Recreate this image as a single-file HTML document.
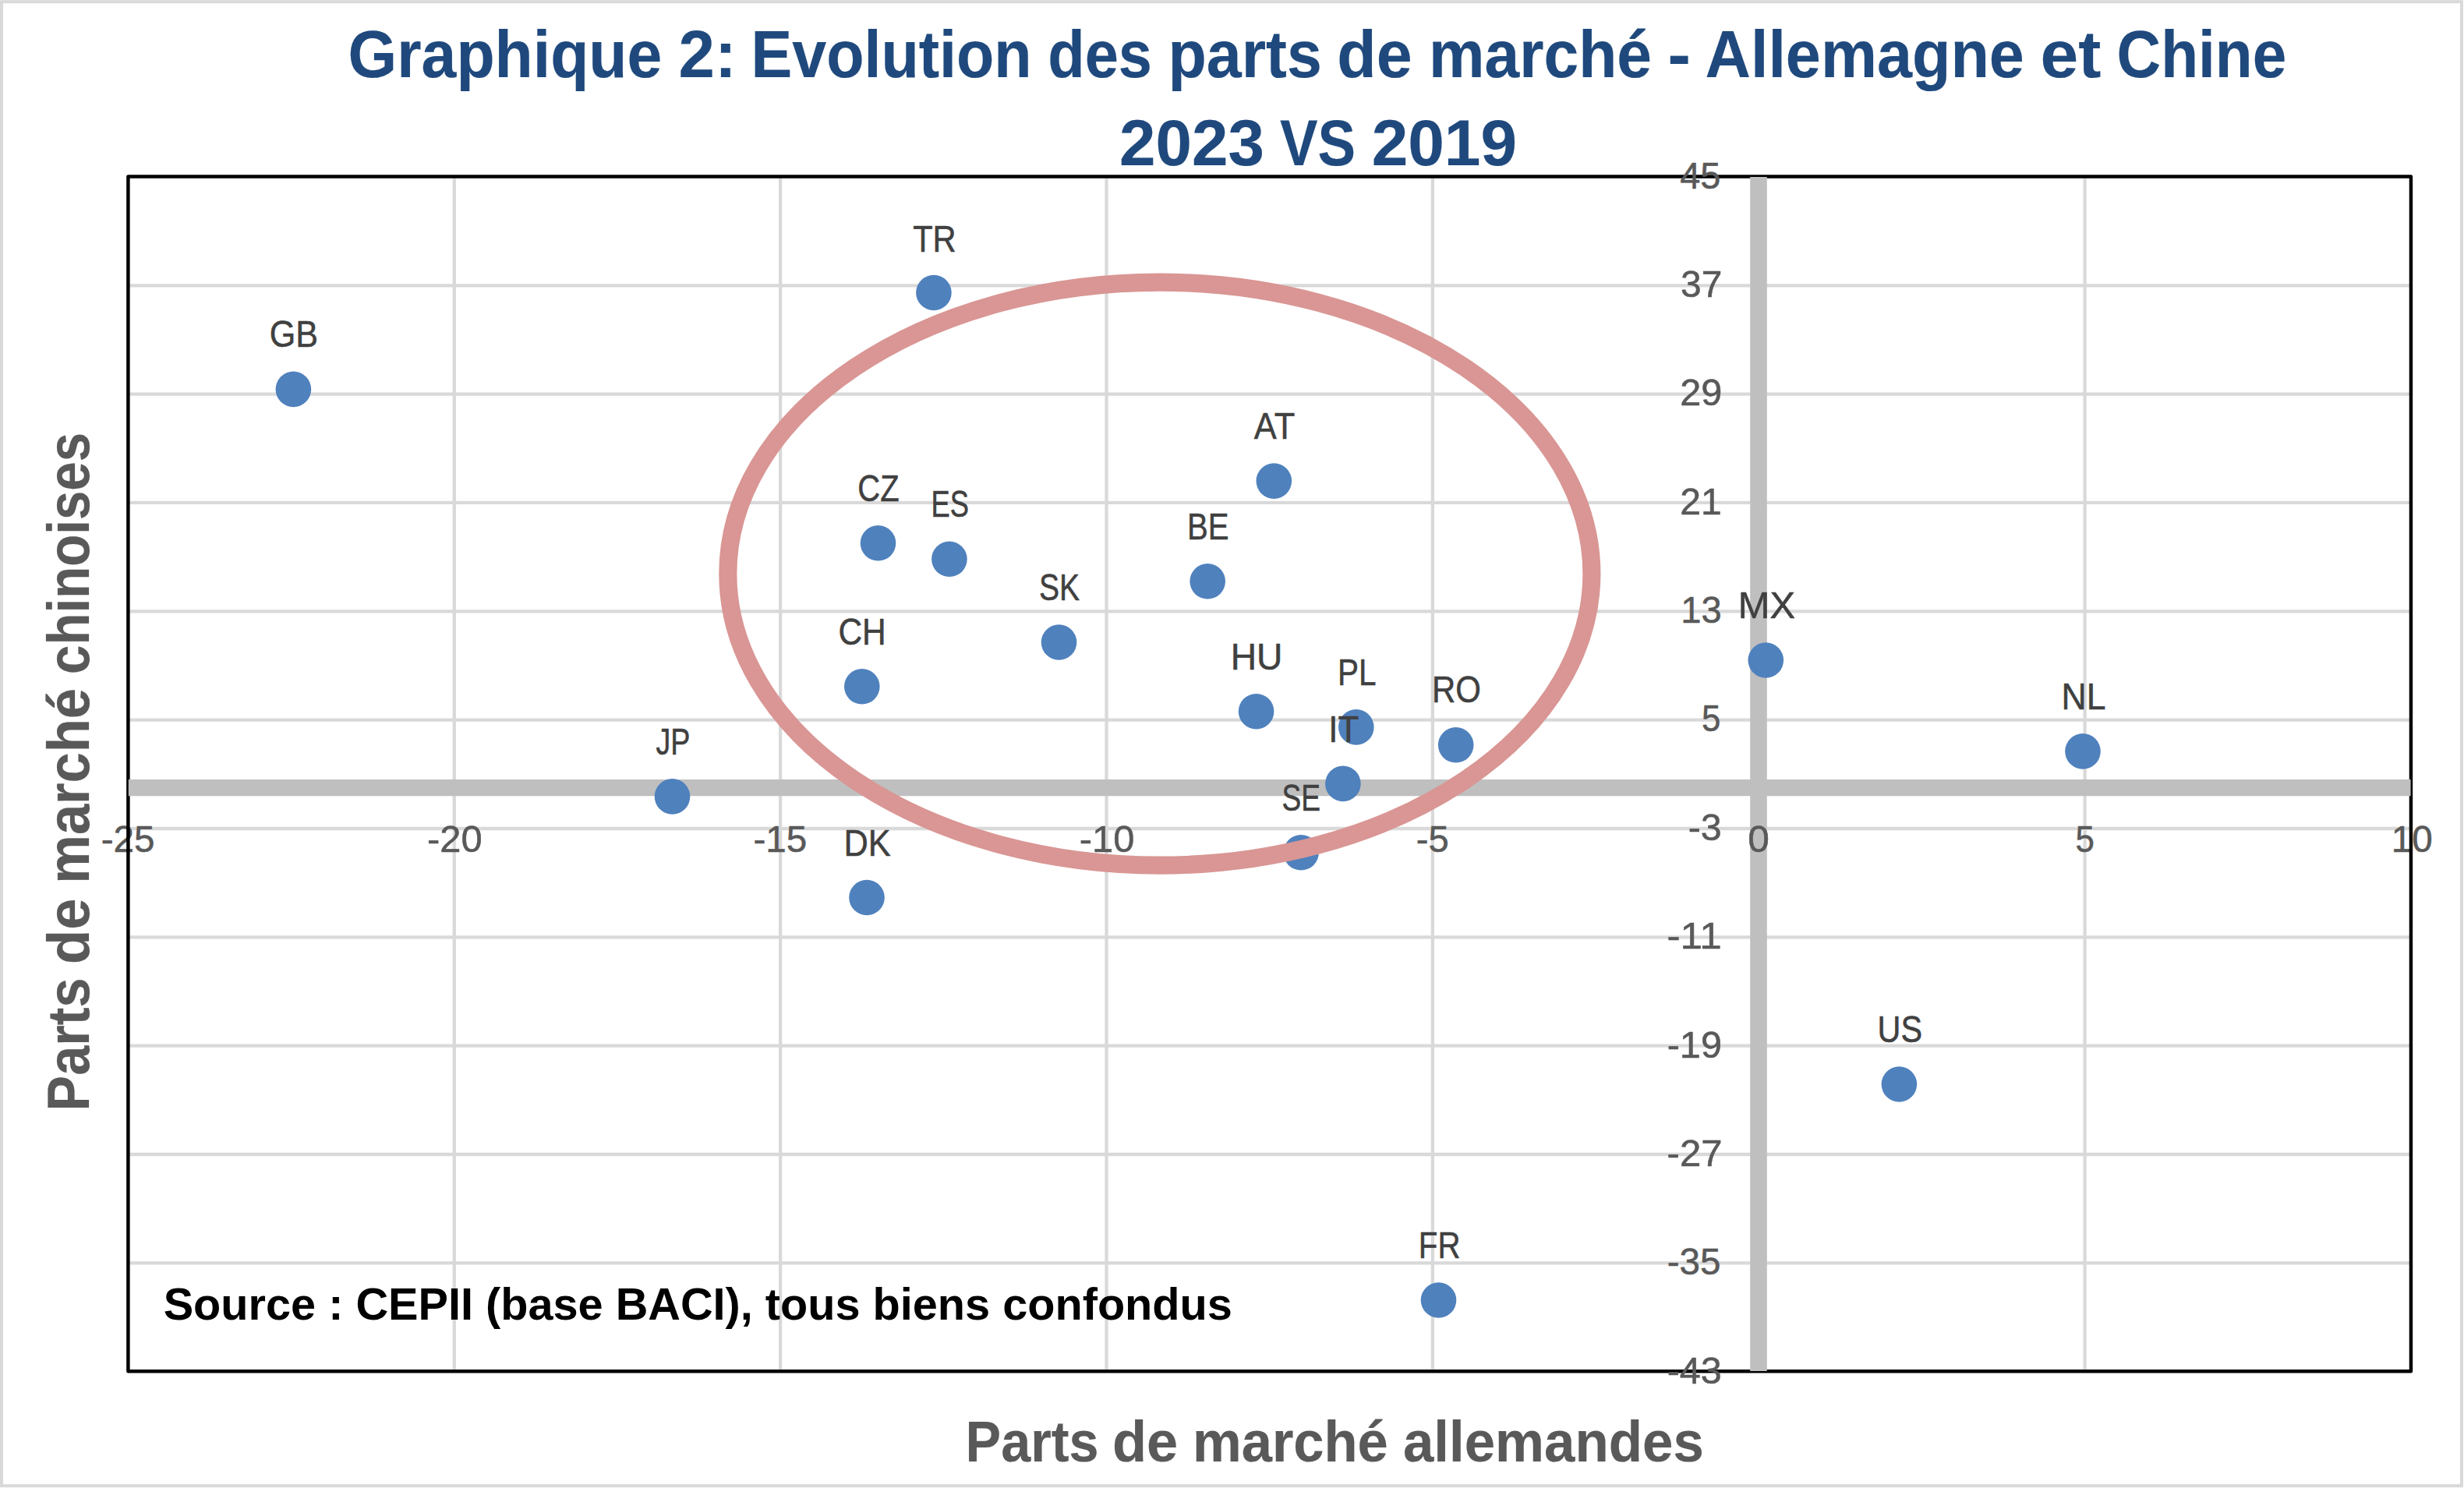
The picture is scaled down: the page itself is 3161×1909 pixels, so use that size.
<!DOCTYPE html>
<html lang="fr">
<head>
<meta charset="utf-8">
<title>Graphique 2: Evolution des parts de marché - Allemagne et Chine 2023 VS 2019</title>
<style>
html,body{margin:0;padding:0;background:#ffffff;}
body{width:3161px;height:1909px;overflow:hidden;}
svg{display:block;}
svg text{font-family:"Liberation Sans", sans-serif;}
</style>
</head>
<body>
<svg width="3161" height="1909" viewBox="0 0 3161 1909">
<rect x="0" y="0" width="3161" height="1909" fill="#ffffff"/>
<line x1="164.4" y1="366.29" x2="3092.96" y2="366.29" stroke="#d9d9d9" stroke-width="4.3"/>
<line x1="164.4" y1="505.63" x2="3092.96" y2="505.63" stroke="#d9d9d9" stroke-width="4.3"/>
<line x1="164.4" y1="644.97" x2="3092.96" y2="644.97" stroke="#d9d9d9" stroke-width="4.3"/>
<line x1="164.4" y1="784.31" x2="3092.96" y2="784.31" stroke="#d9d9d9" stroke-width="4.3"/>
<line x1="164.4" y1="923.65" x2="3092.96" y2="923.65" stroke="#d9d9d9" stroke-width="4.3"/>
<line x1="164.4" y1="1063.00" x2="3092.96" y2="1063.00" stroke="#d9d9d9" stroke-width="4.3"/>
<line x1="164.4" y1="1202.34" x2="3092.96" y2="1202.34" stroke="#d9d9d9" stroke-width="4.3"/>
<line x1="164.4" y1="1341.68" x2="3092.96" y2="1341.68" stroke="#d9d9d9" stroke-width="4.3"/>
<line x1="164.4" y1="1481.02" x2="3092.96" y2="1481.02" stroke="#d9d9d9" stroke-width="4.3"/>
<line x1="164.4" y1="1620.36" x2="3092.96" y2="1620.36" stroke="#d9d9d9" stroke-width="4.3"/>
<line x1="582.77" y1="226.55" x2="582.77" y2="1759.3" stroke="#d9d9d9" stroke-width="4.3"/>
<line x1="1001.13" y1="226.55" x2="1001.13" y2="1759.3" stroke="#d9d9d9" stroke-width="4.3"/>
<line x1="1419.50" y1="226.55" x2="1419.50" y2="1759.3" stroke="#d9d9d9" stroke-width="4.3"/>
<line x1="1837.86" y1="226.55" x2="1837.86" y2="1759.3" stroke="#d9d9d9" stroke-width="4.3"/>
<line x1="2256.23" y1="226.55" x2="2256.23" y2="1759.3" stroke="#d9d9d9" stroke-width="4.3"/>
<line x1="2674.59" y1="226.55" x2="2674.59" y2="1759.3" stroke="#d9d9d9" stroke-width="4.3"/>
<text transform="translate(131.88,1093.42) scale(0.9878,1)" x="-2.25" y="0" font-size="48.2" font-weight="400" fill="#595959" stroke="#595959" stroke-width="0.55" stroke-linejoin="round">-25</text>
<text transform="translate(550.25,1093.42) scale(1.0145,1)" x="-2.25" y="0" font-size="48.2" font-weight="400" fill="#595959" stroke="#595959" stroke-width="0.55" stroke-linejoin="round">-20</text>
<text transform="translate(968.61,1093.42) scale(0.9878,1)" x="-2.25" y="0" font-size="48.2" font-weight="400" fill="#595959" stroke="#595959" stroke-width="0.55" stroke-linejoin="round">-15</text>
<text transform="translate(1386.98,1093.42) scale(1.0145,1)" x="-2.25" y="0" font-size="48.2" font-weight="400" fill="#595959" stroke="#595959" stroke-width="0.55" stroke-linejoin="round">-10</text>
<text transform="translate(1818.86,1093.42) scale(0.9792,1)" x="-2.25" y="0" font-size="48.2" font-weight="400" fill="#595959" stroke="#595959" stroke-width="0.55" stroke-linejoin="round">-5</text>
<text transform="translate(2664.25,1093.42) scale(0.9099,1)" x="-2.00" y="0" font-size="48.2" font-weight="400" fill="#595959" stroke="#595959" stroke-width="0.55" stroke-linejoin="round">5</text>
<text transform="translate(3071.35,1093.42) scale(0.9885,1)" x="-3.75" y="0" font-size="48.2" font-weight="400" fill="#595959" stroke="#595959" stroke-width="0.55" stroke-linejoin="round">10</text>
<rect x="164.4" y="226.55" width="2928.56" height="1532.75" fill="none" stroke="#000" stroke-width="4.45" stroke-linejoin="round"/>
<line x1="164.80" y1="1010.7" x2="3092.56" y2="1010.7" stroke="#bfbfbf" stroke-width="21.3"/>
<line x1="2256.0" y1="226.95" x2="2256.0" y2="1759.10" stroke="#bfbfbf" stroke-width="21.6"/>
<circle cx="376.4" cy="499.4" r="22.8" fill="#4f81bd"/>
<circle cx="1197.9" cy="375.5" r="22.8" fill="#4f81bd"/>
<circle cx="1126.5" cy="696.8" r="22.8" fill="#4f81bd"/>
<circle cx="1217.9" cy="717.3" r="22.8" fill="#4f81bd"/>
<circle cx="1634.3" cy="617.1" r="22.8" fill="#4f81bd"/>
<circle cx="1549.2" cy="745.8" r="22.8" fill="#4f81bd"/>
<circle cx="1358.5" cy="824.0" r="22.8" fill="#4f81bd"/>
<circle cx="1105.8" cy="880.8" r="22.8" fill="#4f81bd"/>
<circle cx="1611.6" cy="912.7" r="22.8" fill="#4f81bd"/>
<circle cx="1739.8" cy="932.9" r="22.8" fill="#4f81bd"/>
<circle cx="1722.9" cy="1005.4" r="22.8" fill="#4f81bd"/>
<circle cx="1867.7" cy="955.8" r="22.8" fill="#4f81bd"/>
<circle cx="1669.1" cy="1093.8" r="22.8" fill="#4f81bd"/>
<circle cx="862.5" cy="1021.9" r="22.8" fill="#4f81bd"/>
<circle cx="1112.0" cy="1151.5" r="22.8" fill="#4f81bd"/>
<circle cx="2265.3" cy="847.0" r="22.8" fill="#4f81bd"/>
<circle cx="2672.0" cy="963.9" r="22.8" fill="#4f81bd"/>
<circle cx="2436.4" cy="1391.0" r="22.8" fill="#4f81bd"/>
<circle cx="1845.5" cy="1668.0" r="22.8" fill="#4f81bd"/>
<text transform="translate(449.90,99.40) scale(0.9366,1)" x="-3.50" y="0" font-size="86" font-weight="700" fill="#1f497d" stroke="#1f497d" stroke-width="0.2" stroke-linejoin="round">Graphique</text>
<text transform="translate(873.50,99.40) scale(0.9690,1)" x="-3.00" y="0" font-size="86" font-weight="700" fill="#1f497d" stroke="#1f497d" stroke-width="0.2" stroke-linejoin="round">2:</text>
<text transform="translate(968.83,99.40) scale(0.9193,1)" x="-5.75" y="0" font-size="86" font-weight="700" fill="#1f497d" stroke="#1f497d" stroke-width="0.2" stroke-linejoin="round">Evolution</text>
<text transform="translate(1347.50,99.40) scale(0.9020,1)" x="-3.50" y="0" font-size="86" font-weight="700" fill="#1f497d" stroke="#1f497d" stroke-width="0.2" stroke-linejoin="round">des</text>
<text transform="translate(1503.86,99.40) scale(0.9382,1)" x="-5.75" y="0" font-size="86" font-weight="700" fill="#1f497d" stroke="#1f497d" stroke-width="0.2" stroke-linejoin="round">parts</text>
<text transform="translate(1718.60,99.40) scale(0.9607,1)" x="-3.50" y="0" font-size="86" font-weight="700" fill="#1f497d" stroke="#1f497d" stroke-width="0.2" stroke-linejoin="round">de</text>
<text transform="translate(1838.43,99.40) scale(0.9347,1)" x="-5.75" y="0" font-size="86" font-weight="700" fill="#1f497d" stroke="#1f497d" stroke-width="0.2" stroke-linejoin="round">marché</text>
<text transform="translate(2142.91,99.40) scale(1.0279,1)" x="-3.25" y="0" font-size="86" font-weight="700" fill="#1f497d" stroke="#1f497d" stroke-width="0.2" stroke-linejoin="round">-</text>
<text transform="translate(2189.51,99.40) scale(0.9417,1)" x="-2.25" y="0" font-size="86" font-weight="700" fill="#1f497d" stroke="#1f497d" stroke-width="0.2" stroke-linejoin="round">Allemagne</text>
<text transform="translate(2620.84,99.40) scale(1.0174,1)" x="-3.25" y="0" font-size="86" font-weight="700" fill="#1f497d" stroke="#1f497d" stroke-width="0.2" stroke-linejoin="round">et</text>
<text transform="translate(2718.75,99.40) scale(0.9114,1)" x="-3.50" y="0" font-size="86" font-weight="700" fill="#1f497d" stroke="#1f497d" stroke-width="0.2" stroke-linejoin="round">Chine</text>
<text transform="translate(1439.10,211.60) scale(0.9948,1)" x="-3.00" y="0" font-size="84" font-weight="700" fill="#1f497d" stroke="#1f497d" stroke-width="0.2" stroke-linejoin="round">2023</text>
<text transform="translate(1642.57,211.60) scale(0.8661,1)" x="-0.75" y="0" font-size="84" font-weight="700" fill="#1f497d" stroke="#1f497d" stroke-width="0.2" stroke-linejoin="round">VS</text>
<text transform="translate(1762.62,211.60) scale(0.9976,1)" x="-3.00" y="0" font-size="84" font-weight="700" fill="#1f497d" stroke="#1f497d" stroke-width="0.2" stroke-linejoin="round">2019</text>
<text transform="translate(1243.10,1875.10) scale(0.9113,1)" x="-5.00" y="0" font-size="75" font-weight="700" fill="#595959" stroke="#595959" stroke-width="0.2" stroke-linejoin="round">Parts</text>
<text transform="translate(1429.82,1875.10) scale(0.9623,1)" x="-3.00" y="0" font-size="75" font-weight="700" fill="#595959" stroke="#595959" stroke-width="0.2" stroke-linejoin="round">de</text>
<text transform="translate(1534.75,1875.10) scale(0.9401,1)" x="-5.00" y="0" font-size="75" font-weight="700" fill="#595959" stroke="#595959" stroke-width="0.2" stroke-linejoin="round">marché</text>
<text transform="translate(1802.05,1875.10) scale(0.9447,1)" x="-2.25" y="0" font-size="75" font-weight="700" fill="#595959" stroke="#595959" stroke-width="0.2" stroke-linejoin="round">allemandes</text>
<text transform="translate(113.80,1420.90) rotate(-90) scale(0.8991,1)" x="-5.00" y="0" font-size="76" font-weight="700" fill="#595959" stroke="#595959" stroke-width="0.2" stroke-linejoin="round">Parts</text>
<text transform="translate(113.80,1234.12) rotate(-90) scale(0.9510,1)" x="-3.00" y="0" font-size="76" font-weight="700" fill="#595959" stroke="#595959" stroke-width="0.2" stroke-linejoin="round">de</text>
<text transform="translate(113.80,1129.17) rotate(-90) scale(0.9278,1)" x="-5.00" y="0" font-size="76" font-weight="700" fill="#595959" stroke="#595959" stroke-width="0.2" stroke-linejoin="round">marché</text>
<text transform="translate(113.80,862.30) rotate(-90) scale(0.8845,1)" x="-3.00" y="0" font-size="76" font-weight="700" fill="#595959" stroke="#595959" stroke-width="0.2" stroke-linejoin="round">chinoises</text>
<text transform="translate(211.40,1693.10) scale(0.9996,1)" x="-1.75" y="0" font-size="57.7" font-weight="700" fill="#000000">Source : CEPII (base BACI), tous biens confondus</text>
<text transform="translate(2156.22,241.78) scale(0.9743,1)" x="-1.00" y="0" font-size="48.2" font-weight="400" fill="#595959" stroke="#595959" stroke-width="0.55" stroke-linejoin="round">45</text>
<text transform="translate(2157.72,381.12) scale(0.9939,1)" x="-1.75" y="0" font-size="48.2" font-weight="400" fill="#595959" stroke="#595959" stroke-width="0.55" stroke-linejoin="round">37</text>
<text transform="translate(2157.72,520.46) scale(1.0092,1)" x="-2.50" y="0" font-size="48.2" font-weight="400" fill="#595959" stroke="#595959" stroke-width="0.55" stroke-linejoin="round">29</text>
<text transform="translate(2157.72,659.80) scale(0.9990,1)" x="-2.50" y="0" font-size="48.2" font-weight="400" fill="#595959" stroke="#595959" stroke-width="0.55" stroke-linejoin="round">21</text>
<text transform="translate(2159.97,799.14) scale(0.9780,1)" x="-3.75" y="0" font-size="48.2" font-weight="400" fill="#595959" stroke="#595959" stroke-width="0.55" stroke-linejoin="round">13</text>
<text transform="translate(2184.76,938.48) scale(0.9099,1)" x="-2.00" y="0" font-size="48.2" font-weight="400" fill="#595959" stroke="#595959" stroke-width="0.55" stroke-linejoin="round">5</text>
<text transform="translate(2167.93,1077.82) scale(1.0052,1)" x="-2.25" y="0" font-size="48.2" font-weight="400" fill="#595959" stroke="#595959" stroke-width="0.55" stroke-linejoin="round">-3</text>
<text transform="translate(2140.90,1217.16) scale(1.0642,1)" x="-2.25" y="0" font-size="48.2" font-weight="400" fill="#595959" stroke="#595959" stroke-width="0.55" stroke-linejoin="round">-11</text>
<text transform="translate(2140.90,1356.50) scale(1.0107,1)" x="-2.25" y="0" font-size="48.2" font-weight="400" fill="#595959" stroke="#595959" stroke-width="0.55" stroke-linejoin="round">-19</text>
<text transform="translate(2140.90,1495.84) scale(1.0185,1)" x="-2.25" y="0" font-size="48.2" font-weight="400" fill="#595959" stroke="#595959" stroke-width="0.55" stroke-linejoin="round">-27</text>
<text transform="translate(2140.90,1635.18) scale(0.9878,1)" x="-2.25" y="0" font-size="48.2" font-weight="400" fill="#595959" stroke="#595959" stroke-width="0.55" stroke-linejoin="round">-35</text>
<text transform="translate(2140.90,1774.52) scale(1.0069,1)" x="-2.25" y="0" font-size="48.2" font-weight="400" fill="#595959" stroke="#595959" stroke-width="0.55" stroke-linejoin="round">-43</text>
<text transform="translate(2244.29,1093.42) scale(1.0304,1)" x="-2.00" y="0" font-size="48.2" font-weight="400" fill="#595959" stroke="#595959" stroke-width="0.55" stroke-linejoin="round">0</text>
<text transform="translate(347.95,444.93) scale(0.8946,1)" x="-2.50" y="0" font-size="48.2" font-weight="400" fill="#404040" stroke="#404040" stroke-width="0.55" stroke-linejoin="round">GB</text>
<text transform="translate(1172.05,322.62) scale(0.8639,1)" x="-1.00" y="0" font-size="48.2" font-weight="400" fill="#404040" stroke="#404040" stroke-width="0.55" stroke-linejoin="round">TR</text>
<text transform="translate(1102.42,642.83) scale(0.8290,1)" x="-2.50" y="0" font-size="48.2" font-weight="400" fill="#404040" stroke="#404040" stroke-width="0.55" stroke-linejoin="round">CZ</text>
<text transform="translate(1197.51,662.73) scale(0.7534,1)" x="-4.00" y="0" font-size="48.2" font-weight="400" fill="#404040" stroke="#404040" stroke-width="0.55" stroke-linejoin="round">ES</text>
<text transform="translate(1609.08,563.33) scale(0.9022,1)" x="-0.25" y="0" font-size="48.2" font-weight="400" fill="#404040" stroke="#404040" stroke-width="0.55" stroke-linejoin="round">AT</text>
<text transform="translate(1526.30,691.63) scale(0.8318,1)" x="-4.00" y="0" font-size="48.2" font-weight="400" fill="#404040" stroke="#404040" stroke-width="0.55" stroke-linejoin="round">BE</text>
<text transform="translate(1334.77,770.13) scale(0.8114,1)" x="-2.25" y="0" font-size="48.2" font-weight="400" fill="#404040" stroke="#404040" stroke-width="0.55" stroke-linejoin="round">SK</text>
<text transform="translate(1077.59,827.13) scale(0.8806,1)" x="-2.50" y="0" font-size="48.2" font-weight="400" fill="#404040" stroke="#404040" stroke-width="0.55" stroke-linejoin="round">CH</text>
<text transform="translate(1582.50,859.13) scale(0.9589,1)" x="-4.00" y="0" font-size="48.2" font-weight="400" fill="#404040" stroke="#404040" stroke-width="0.55" stroke-linejoin="round">HU</text>
<text transform="translate(1719.43,878.83) scale(0.8394,1)" x="-4.00" y="0" font-size="48.2" font-weight="400" fill="#404040" stroke="#404040" stroke-width="0.55" stroke-linejoin="round">PL</text>
<text transform="translate(1708.31,952.23) scale(0.9114,1)" x="-4.50" y="0" font-size="48.2" font-weight="400" fill="#404040" stroke="#404040" stroke-width="0.55" stroke-linejoin="round">IT</text>
<text transform="translate(1840.45,900.53) scale(0.8705,1)" x="-4.00" y="0" font-size="48.2" font-weight="400" fill="#404040" stroke="#404040" stroke-width="0.55" stroke-linejoin="round">RO</text>
<text transform="translate(1646.20,1039.62) scale(0.7700,1)" x="-2.25" y="0" font-size="48.2" font-weight="400" fill="#404040" stroke="#404040" stroke-width="0.55" stroke-linejoin="round">SE</text>
<text transform="translate(842.09,967.93) scale(0.7821,1)" x="-0.75" y="0" font-size="48.2" font-weight="400" fill="#404040" stroke="#404040" stroke-width="0.55" stroke-linejoin="round">JP</text>
<text transform="translate(1086.12,1098.12) scale(0.8988,1)" x="-4.00" y="0" font-size="48.2" font-weight="400" fill="#404040" stroke="#404040" stroke-width="0.55" stroke-linejoin="round">DK</text>
<text transform="translate(2233.78,793.23) scale(1.0141,1)" x="-4.00" y="0" font-size="48.2" font-weight="400" fill="#404040" stroke="#404040" stroke-width="0.55" stroke-linejoin="round">MX</text>
<text transform="translate(2648.20,909.93) scale(0.9232,1)" x="-4.00" y="0" font-size="48.2" font-weight="400" fill="#404040" stroke="#404040" stroke-width="0.55" stroke-linejoin="round">NL</text>
<text transform="translate(2411.67,1337.33) scale(0.8598,1)" x="-3.75" y="0" font-size="48.2" font-weight="400" fill="#404040" stroke="#404040" stroke-width="0.55" stroke-linejoin="round">US</text>
<text transform="translate(1823.14,1614.33) scale(0.8353,1)" x="-4.00" y="0" font-size="48.2" font-weight="400" fill="#404040" stroke="#404040" stroke-width="0.55" stroke-linejoin="round">FR</text>
<ellipse cx="1487.85" cy="736.1" rx="554.05" ry="374.0" fill="none" stroke="#d99694" stroke-width="23.1"/>
<rect x="2" y="2.2" width="3156" height="1904" fill="none" stroke="#d9d9d9" stroke-width="4"/>
</svg>
</body>
</html>
